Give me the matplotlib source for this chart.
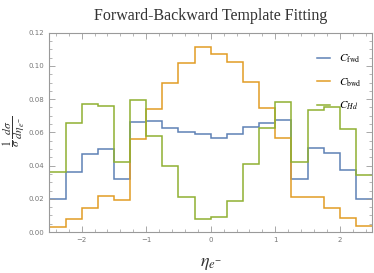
import numpy as np
import matplotlib
matplotlib.use('Agg')
import matplotlib.pyplot as plt
from matplotlib.ticker import MultipleLocator, AutoMinorLocator

# bin edges in eta
edges = np.linspace(-2.5, 2.5, 21)

c_fwd = [0.0201, 0.0361, 0.0472, 0.0500, 0.0321, 0.0660, 0.0670, 0.0626, 0.0604, 0.0588,
         0.0566, 0.0592, 0.0630, 0.0654, 0.0672, 0.0319, 0.0508, 0.0474, 0.0371, 0.0199]
c_bwd = [0.0032, 0.0078, 0.0144, 0.0217, 0.0195, 0.0560, 0.0739, 0.0895, 0.1020, 0.1112,
         0.1072, 0.1021, 0.0901, 0.0749, 0.0566, 0.0209, 0.0209, 0.0142, 0.0086, 0.0038]
c_hd = [0.0359, 0.0654, 0.0773, 0.0757, 0.0419, 0.0795, 0.0576, 0.0397, 0.0211, 0.0078,
        0.0088, 0.0187, 0.0410, 0.0624, 0.0783, 0.0421, 0.0734, 0.0755, 0.0622, 0.0345]

labels = [r'$C_{\rm fwd}$', r'$C_{\rm bwd}$', r'$C_{Hd}$']
colors = ['#5E81B5', '#E19C24', '#8FB032']

plt.rcParams['mathtext.fontset'] = 'stix'

fig = plt.figure(figsize=(3.74, 2.73), dpi=100)
ax = fig.add_axes([0.132, 0.150, 0.863, 0.730])

for vals, lab, col in zip([c_fwd, c_bwd, c_hd], labels, colors):
    ax.stairs(vals, edges, color=col, lw=1.1, label=lab, baseline=None)

ax.set_xlim(-2.5, 2.5)
ax.set_ylim(0, 0.12)
ax.xaxis.set_major_locator(MultipleLocator(1))
ax.xaxis.set_minor_locator(AutoMinorLocator(5))
ax.yaxis.set_major_locator(MultipleLocator(0.02))
ax.yaxis.set_minor_locator(AutoMinorLocator(4))
ax.yaxis.set_major_formatter(matplotlib.ticker.FormatStrFormatter('%.2f'))

gray = '#9a9a9a'
for s in ax.spines.values():
    s.set_color(gray)
    s.set_linewidth(0.8)
ax.tick_params(which='both', direction='in', top=True, right=True, colors=gray,
               labelcolor='#777777', labelsize=5)
ax.tick_params(which='major', length=4, width=0.6)
ax.tick_params(which='minor', length=2, width=0.5)

ax.set_title('Forward-Backward Template Fitting', family='Liberation Serif',
             fontsize=11.5, color='#333333', pad=9)
ax.set_xlabel(r'$\eta_{e^{-}}$', fontsize=13, color='#333333', labelpad=8)
fig.text(0.036, 0.52, r'$\dfrac{1}{\sigma}\,\dfrac{d\sigma}{d\eta_{e^{-}}}$', fontsize=8.5,
         color='#333333', rotation=90, ha='center', va='center')

ax.legend(loc='upper right', frameon=False, fontsize=8, handlelength=1.2,
          labelspacing=1.0, bbox_to_anchor=(1.0, 0.95))

fig.savefig('out.png', dpi=100)
